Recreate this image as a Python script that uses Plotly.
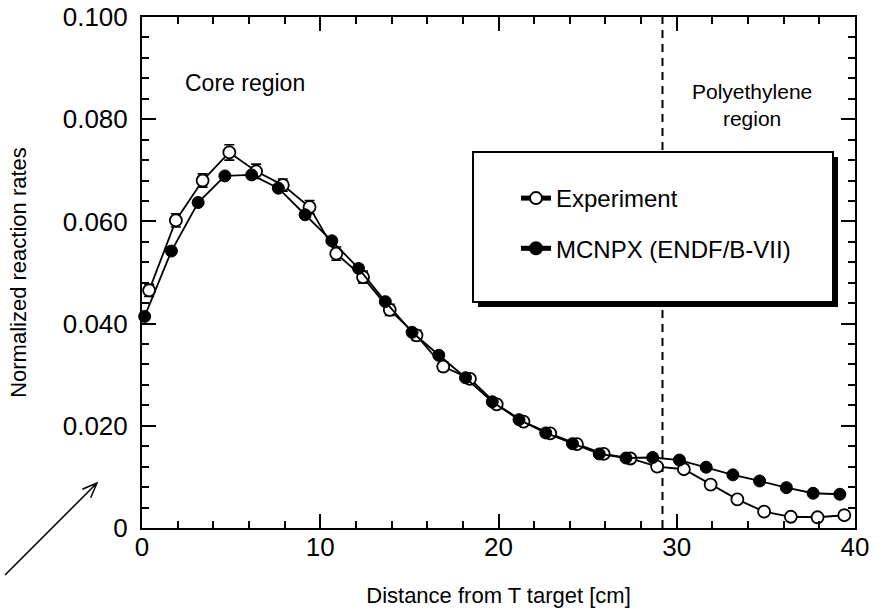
import plotly.graph_objects as go

# ---------------- data ----------------
exp_x = [0.4, 1.9, 3.4, 4.9, 6.4, 7.9, 9.4, 10.9, 12.4, 13.9, 15.4, 16.9, 18.4, 19.9,
         21.4, 22.9, 24.4, 25.9, 27.4, 28.9, 30.4, 31.9, 33.4, 34.9, 36.4, 37.9, 39.4]
exp_y = [0.0465, 0.0602, 0.0680, 0.0735, 0.0698, 0.0671, 0.0628, 0.0537, 0.0491, 0.0427,
         0.0377, 0.0316, 0.0292, 0.0242, 0.0208, 0.0185, 0.0164, 0.0145, 0.0136, 0.0120,
         0.0115, 0.0085, 0.0056, 0.0032, 0.0022, 0.0021, 0.0025]
exp_err = [0.0012, 0.0013, 0.0013, 0.0015, 0.0014, 0.0012, 0.0013, 0.0013, 0.0012, 0.0011,
           0.0010, 0.0009, 0.0008, 0.0007, 0.0006, 0.0006, 0.0005, 0.0005, 0.0004, 0.0004,
           0.0004, 0.0003, 0.0002, 0.0001, 0.0001, 0.0001, 0.0001]

mc_x = [0.15, 1.65, 3.15, 4.65, 6.15, 7.65, 9.15, 10.65, 12.15, 13.65, 15.15, 16.65, 18.15,
        19.65, 21.15, 22.65, 24.15, 25.65, 27.15, 28.65, 30.15, 31.65, 33.15, 34.65, 36.15,
        37.65, 39.15]
mc_y = [0.0414, 0.0542, 0.0637, 0.0689, 0.0691, 0.0665, 0.0613, 0.0562, 0.0508, 0.0443,
        0.0383, 0.0338, 0.0294, 0.0247, 0.0212, 0.0186, 0.0165, 0.0145, 0.0137, 0.0138,
        0.0133, 0.0119, 0.0104, 0.0092, 0.0079, 0.0068, 0.0066]

boundary_x = 29.2

x_tickvals = [0, 10, 20, 30, 40]
x_ticktext = ["0", "10", "20", "30", "40"]
y_tickvals = [0, 0.02, 0.04, 0.06, 0.08, 0.10]
y_ticktext = ["0", "0.020", "0.040", "0.060", "0.080", "0.100"]

series_names = ["Experiment", "MCNPX (ENDF/B-VII)"]

# ---------------- layout geometry ----------------
W, H = 882, 612
L, R, T, B = 142, 855, 17, 528   # plot-area pixel edges


def px(xp):
    return (xp - L) / (R - L)


def py(yp):
    return (B - yp) / (B - T)


FONT = "Liberation Sans, Arial, sans-serif"

fig = go.Figure()

fig.add_trace(go.Scatter(
    x=exp_x, y=exp_y, name=series_names[0], mode="lines+markers",
    line=dict(color="black", width=1.8),
    marker=dict(symbol="circle", size=12, color="white",
                line=dict(color="black", width=1.8)),
    error_y=dict(type="data", array=exp_err, visible=True, color="black",
                 thickness=1.6, width=5),
    cliponaxis=False, legendgroup="a",
))
fig.add_trace(go.Scatter(
    x=mc_x, y=mc_y, name=series_names[1], mode="lines+markers",
    line=dict(color="black", width=1.8),
    marker=dict(symbol="circle", size=12, color="black",
                line=dict(color="black", width=1)),
    cliponaxis=False, legendgroup="b",
))

shapes = []
# boundary dashed line
shapes.append(dict(type="line", xref="x", yref="paper", x0=boundary_x, x1=boundary_x,
                   y0=0, y1=1, line=dict(color="black", width=2, dash="8px,6px"),
                   layer="below"))
# legend box with shadow
shapes.append(dict(type="rect", xref="paper", yref="paper",
                   x0=px(478), x1=px(838), y0=py(307), y1=py(157),
                   fillcolor="black", line=dict(width=0), layer="above"))
shapes.append(dict(type="rect", xref="paper", yref="paper",
                   x0=px(473), x1=px(833), y0=py(302), y1=py(152),
                   fillcolor="white", line=dict(color="black", width=2), layer="above"))
# arrow outside the axes
hx, hy, tx, ty = 97, 483, 5, 575
b1 = (90.7, 497.7)
b2 = (82.3, 489.3)
path = (f"M {px(tx)} {py(ty)} L {px(hx)} {py(hy)} "
        f"M {px(b1[0])} {py(b1[1])} L {px(hx)} {py(hy)} L {px(b2[0])} {py(b2[1])}")
shapes.append(dict(type="path", xref="paper", yref="paper", path=path,
                   line=dict(color="black", width=1.5)))

annotations = [
    dict(x=5.8, y=0.0871, xref="x", yref="y", text="Core region", showarrow=False,
         font=dict(family=FONT, size=23, color="black")),
    dict(x=34.2, y=0.0827, xref="x", yref="y", text="Polyethylene<br>region",
         showarrow=False, font=dict(family=FONT, size=21, color="black")),
]

fig.update_layout(
    width=W, height=H,
    margin=dict(l=L, r=W - R, t=T, b=H - B, autoexpand=False),
    paper_bgcolor="white", plot_bgcolor="white",
    font=dict(family=FONT, color="black", size=23),
    shapes=shapes, annotations=annotations,
    showlegend=True,
    legend=dict(x=px(516), y=py(176), xanchor="left", yanchor="top",
                bgcolor="rgba(0,0,0,0)", borderwidth=0, tracegroupgap=16,
                font=dict(family=FONT, size=24, color="black"),
                itemsizing="constant"),
)

fig.update_xaxes(
    range=[0, 40], showgrid=False, zeroline=False, automargin=False,
    showline=True, linecolor="black", linewidth=2, mirror="ticks",
    ticks="inside", ticklen=14, tickwidth=2, tickcolor="black",
    tickvals=x_tickvals, ticktext=x_ticktext, ticklabelstandoff=-5,
    tickfont=dict(family=FONT, size=26, color="black"),
    minor=dict(dtick=2, ticks="inside", ticklen=7, tickwidth=2, tickcolor="black"),
    title=dict(text="Distance from T target [cm]", standoff=26,
               font=dict(family=FONT, size=22, color="black")),
)
fig.update_yaxes(
    range=[0, 0.1], showgrid=False, zeroline=False, automargin=False,
    showline=True, linecolor="black", linewidth=2, mirror="ticks",
    ticks="inside", ticklen=14, tickwidth=2, tickcolor="black",
    tickvals=y_tickvals, ticktext=y_ticktext, ticklabelstandoff=7,
    tickfont=dict(family=FONT, size=26, color="black"),
    minor=dict(dtick=0.004, ticks="inside", ticklen=7, tickwidth=2, tickcolor="black"),
    title=dict(text="Normalized reaction rates", standoff=30,
               font=dict(family=FONT, size=22, color="black")),
)

fig.write_html("out.html", post_script="document.body.style.margin='0';",
               config={"displayModeBar": False})
